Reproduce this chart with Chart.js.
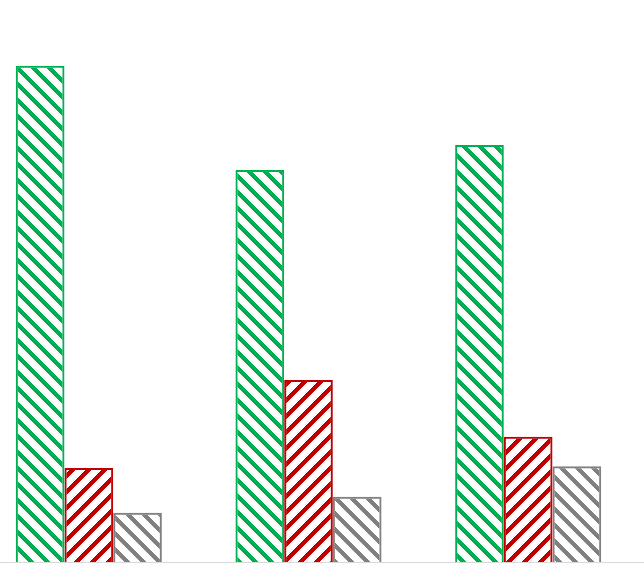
<!DOCTYPE html>
<html>
<head>
<meta charset="utf-8">
<script src="https://cdn.jsdelivr.net/npm/chart.js@4/dist/chart.umd.min.js"></script>
<style>
    html, body { margin: 0; padding: 0; background: #fff; overflow: hidden; }
    #wrap { position: absolute; left: -21px; top: 0; width: 665px; height: 563px; }
</style>
</head>
<body>
<div id="wrap"><canvas id="chart"></canvas></div>
<script>
// Données (parts en %, chaque groupe fait ~100)
const categories = ['1', '2', '3'];
const serieVert = [77.7, 61.4, 65.3];
const serieRouge = [14.7, 28.5, 19.6];
const serieGris = [7.7, 10.2, 15.0];

// Motif hachuré pixel par pixel (sens '\' ou '/'), sans anticrénelage
function hachure(couleur, sens) {
    const t = 16;
    const ep = 6;
    const c = document.createElement('canvas');
    c.width = t;
    c.height = t;
    const g = c.getContext('2d');
    g.fillStyle = couleur;
    for (let y = 0; y < t; y++) {
        for (let x = 0; x < t; x++) {
            const d = sens === '/' ? (x + y) : (x - y);
            if (((d % t) + t) % t < ep) {
                g.fillRect(x, y, 1, 1);
            }
        }
    }
    return document.getElementById('chart').getContext('2d').createPattern(c, 'repeat');
}

// Ligne de base sur toute la largeur
const ligneBase = {
    id: 'ligneBase',
    afterDatasetsDraw(chart) {
        const ctx = chart.ctx;
        const y = chart.chartArea.bottom + 0.5;
        ctx.save();
        ctx.strokeStyle = '#d9d9d9';
        ctx.lineWidth = 1;
        ctx.beginPath();
        ctx.moveTo(0, y);
        ctx.lineTo(chart.width, y);
        ctx.stroke();
        ctx.restore();
    }
};

const vert = '#00b050';
const rouge = '#c00000';
const gris = '#808080';

new Chart(document.getElementById('chart'), {
    type: 'bar',
    data: {
        labels: categories,
        datasets: [{
            label: 'Série 1',
            data: serieVert,
            backgroundColor: hachure(vert, '\\'),
            borderColor: vert,
            borderWidth: 2
        }, {
            label: 'Série 2',
            data: serieRouge,
            backgroundColor: hachure(rouge, '/'),
            borderColor: rouge,
            borderWidth: 2
        }, {
            label: 'Série 3',
            data: serieGris,
            backgroundColor: hachure(gris, '\\'),
            borderColor: gris,
            borderWidth: 2
        }]
    },
    options: {
        responsive: true,
        maintainAspectRatio: false,
        animation: false,
        layout: { padding: { left: 0, right: 6, top: 0, bottom: 1 } },
        datasets: {
            bar: { categoryPercentage: 0.665, barPercentage: 1 }
        },
        plugins: {
            legend: { display: false },
            tooltip: { enabled: false }
        },
        scales: {
            x: { display: false },
            y: { display: false, min: 0, max: 88 }
        }
    },
    plugins: [ligneBase]
});
</script>
</body>
</html>
